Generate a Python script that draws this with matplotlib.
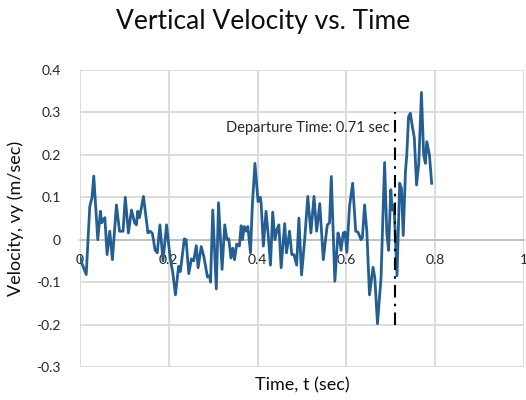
import matplotlib
matplotlib.use("Agg")
import matplotlib.pyplot as plt

plt.rcParams['font.family'] = ['Lato', 'DejaVu Sans']

# time (sec) and vertical velocity (m/sec)
time_s = [0.000, 0.004, 0.014, 0.022, 0.027, 0.031, 0.040, 0.046, 0.049, 0.056,
          0.061, 0.067, 0.073, 0.082, 0.089, 0.097, 0.102, 0.109, 0.116, 0.123,
          0.127, 0.130, 0.134, 0.143, 0.153, 0.158, 0.163, 0.169, 0.174, 0.180,
          0.187, 0.195, 0.203, 0.209, 0.215, 0.222, 0.226, 0.235, 0.239, 0.245,
          0.251, 0.256, 0.262, 0.266, 0.273, 0.279, 0.287, 0.292, 0.294, 0.299,
          0.307, 0.312, 0.320, 0.326, 0.331, 0.335, 0.340, 0.344, 0.348, 0.353,
          0.359, 0.363, 0.366, 0.370, 0.374, 0.378, 0.384, 0.388, 0.394, 0.401,
          0.406, 0.408, 0.413, 0.419, 0.424, 0.429, 0.434, 0.439, 0.444, 0.448,
          0.453, 0.461, 0.465, 0.472, 0.477, 0.482, 0.488, 0.493, 0.499, 0.506,
          0.513, 0.520, 0.527, 0.533, 0.540, 0.548, 0.553, 0.557, 0.562, 0.566,
          0.574, 0.581, 0.584, 0.588, 0.593, 0.597, 0.601, 0.607, 0.614, 0.621,
          0.626, 0.633, 0.636, 0.641, 0.646, 0.652, 0.660, 0.664, 0.670, 0.678,
          0.686, 0.691, 0.695, 0.700, 0.703, 0.706, 0.708, 0.714, 0.720, 0.724,
          0.728, 0.733, 0.736, 0.740, 0.744, 0.748, 0.753, 0.758, 0.763, 0.769,
          0.774, 0.778, 0.781, 0.787, 0.792]
velocity = [-0.040, -0.055, -0.082, 0.078, 0.099, 0.150, 0.000, 0.067, 0.040, 0.052,
            -0.035, 0.020, -0.047, 0.082, 0.020, 0.020, 0.100, 0.016, 0.070, 0.040,
            0.035, 0.067, 0.052, 0.102, 0.016, 0.020, 0.015, -0.024, -0.031, 0.035,
            -0.050, 0.035, -0.043, -0.078, -0.130, -0.063, -0.075, 0.002, 0.000, -0.080,
            -0.045, -0.050, -0.014, -0.066, -0.016, -0.040, -0.088, -0.085, -0.100, 0.070,
            -0.116, 0.087, -0.070, 0.035, 0.000, 0.002, -0.043, -0.020, -0.047, -0.010,
            -0.015, 0.033, 0.000, 0.031, 0.020, 0.031, -0.031, 0.078, 0.180, 0.090,
            0.100, 0.086, -0.015, 0.067, 0.010, -0.060, 0.065, 0.000, 0.025, 0.035,
            -0.066, 0.038, -0.031, 0.020, -0.035, -0.035, -0.060, 0.051, -0.083, 0.000,
            0.102, 0.016, 0.102, 0.020, 0.085, -0.047, 0.000, 0.035, 0.040, 0.149,
            -0.098, 0.016, 0.005, -0.025, 0.016, 0.018, -0.030, 0.078, 0.133, 0.020,
            0.018, 0.000, 0.005, 0.082, 0.020, -0.130, -0.065, -0.090, -0.198, -0.090,
            0.182, 0.016, -0.025, 0.118, 0.070, 0.082, 0.063, -0.085, 0.133, 0.120,
            0.010, 0.160, 0.200, 0.290, 0.298, 0.270, 0.240, 0.129, 0.180, 0.347,
            0.200, 0.180, 0.231, 0.200, 0.133]

departure_time = 0.71
departure_range = [-0.2, 0.3]
departure_label = "Departure Time: 0.71 sec"

x_ticks = [0, 0.2, 0.4, 0.6, 0.8, 1]
x_tick_labels = ["0", "0.2", "0.4", "0.6", "0.8", "1"]
y_ticks = [-0.3, -0.2, -0.1, 0, 0.1, 0.2, 0.3, 0.4]
y_tick_labels = ["-0.3", "-0.2", "-0.1", "0", "0.1", "0.2", "0.3", "0.4"]

fig = plt.figure(figsize=(5.26, 4.0), dpi=100)
ax = fig.add_axes([80 / 526, 33 / 400, 444 / 526, 297 / 400])

ax.plot(time_s, velocity, color='#255e91', linewidth=2.0, zorder=3,
        solid_joinstyle='round')
ax.plot([departure_time, departure_time], departure_range, color='black',
        linewidth=1.5, dashes=(6, 3, 1.2, 3), zorder=4)
ax.text(departure_time - 0.012, 0.264, departure_label, ha='right', va='center',
        fontsize=10.5, color='#262626')

ax.set_xlim(0, 1)
ax.set_ylim(-0.3, 0.4)
ax.set_xticks(x_ticks)
ax.set_xticklabels(x_tick_labels)
ax.set_yticks(y_ticks)
ax.set_yticklabels(y_tick_labels)

ax.grid(True, color='#d9d9d9', linewidth=1.3, zorder=0)
ax.set_axisbelow(True)
for side in ['top', 'right', 'left']:
    ax.spines[side].set_visible(False)
ax.spines['bottom'].set_position(('data', 0))
ax.spines['bottom'].set_color('#bfbfbf')
ax.spines['bottom'].set_linewidth(1.3)
ax.tick_params(axis='both', length=0, labelsize=10, labelcolor='#262626')
ax.tick_params(axis='x', pad=10)
ax.tick_params(axis='y', pad=14)

fig.text(0.5, 1 - 21 / 400, "Vertical Velocity vs. Time", ha='center', va='center',
         fontsize=19, color='#0d0d0d')
ax.set_xlabel("Time, t (sec)", fontsize=13, color='#0d0d0d')
ax.xaxis.set_label_coords(0.5, -0.035)
ax.set_ylabel("Velocity, vy (m/sec)", fontsize=13, color='#0d0d0d')
ax.yaxis.set_label_coords(-0.125, 0.5)

fig.savefig("out.png", dpi=100)
